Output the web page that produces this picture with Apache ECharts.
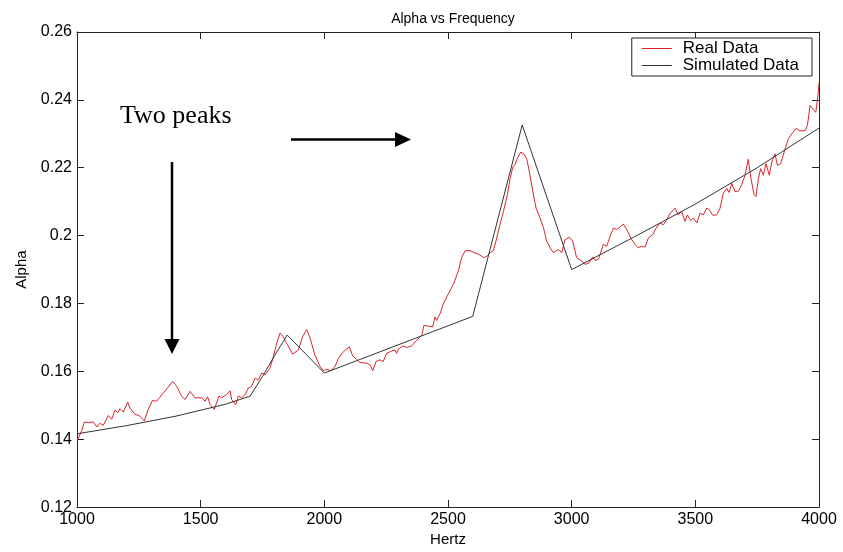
<!DOCTYPE html>
<html>
<head>
<meta charset="utf-8">
<script src="https://cdn.jsdelivr.net/npm/echarts@6/dist/echarts.min.js"></script>
<style>
  html, body { margin: 0; padding: 0; background: #fff; }
  #chart { width: 843px; height: 552px; }
</style>
</head>
<body>
<div id="chart"></div>
<script>
// Measured attenuation (Real Data): frequency in Hz and alpha
const realHz = [
  1000,1019,1030,1046,1066,1080,1093,1106,1127,1140,1154,1164,1174,1187,1205,1214,1235,1251,1272,1288,
  1305,1322,1349,1387,1403,1423,1437,1457,1477,1504,1518,1528,1538,1555,1574,1585,1605,1619,1625,1642,
  1652,1666,1673,1680,1693,1706,1720,1733,1747,1760,1780,1794,1807,1821,1834,1848,1872,1895,1912,1929,
  1945,1962,1983,1996,2010,2026,2043,2057,2077,2101,2115,2131,2144,2171,2185,2196,2209,2225,2238,2252,
  2272,2286,2292,2303,2319,2333,2353,2374,2394,2403,2420,2438,2447,2454,2468,2481,2501,2522,2542,2555,
  2569,2589,2605,2623,2636,2646,2659,2670,2683,2694,2710,2724,2740,2751,2762,2771,2780,2794,2807,2818,
  2829,2843,2856,2872,2886,2899,2913,2926,2946,2960,2973,2991,3004,3020,3041,3054,3071,3085,3094,3108,
  3128,3142,3155,3169,3182,3195,3209,3223,3239,3256,3269,3283,3297,3310,3328,3341,3357,3371,3384,3398,
  3418,3431,3445,3458,3468,3481,3492,3506,3519,3532,3546,3557,3570,3586,3600,3613,3627,3637,3647,3660,
  3674,3687,3701,3714,3725,3737,3745,3755,3764,3775,3786,3799,3809,3822,3832,3845,3859,3876,3894,3907,
  3923,3944,3953,3964,3977,3987,3997,4000
];
const realAlpha = [
  0.1395,0.1425,0.1451,0.1449,0.1451,0.1436,0.1447,0.1441,0.1470,0.1459,0.1486,0.1478,0.1490,0.1480,0.1509,0.1492,0.1473,0.1470,0.1454,0.1488,
  0.1514,0.1512,0.1536,0.1570,0.1556,0.1527,0.1517,0.1541,0.1522,0.1522,0.1512,0.1525,0.1502,0.1488,0.1527,0.1522,0.1532,0.1543,0.1517,0.1502,
  0.1527,0.1522,0.1517,0.1532,0.1551,0.1556,0.1580,0.1575,0.1595,0.1590,0.1609,0.1643,0.1682,0.1713,0.1702,0.1682,0.1651,0.1663,0.1702,0.1723,
  0.1692,0.1648,0.1614,0.1602,0.1606,0.1602,0.1614,0.1638,0.1658,0.1672,0.1645,0.1635,0.1626,0.1624,0.1619,0.1602,0.1629,0.1634,0.1629,0.1653,
  0.1660,0.1663,0.1653,0.1668,0.1675,0.1670,0.1675,0.1692,0.1707,0.1736,0.1733,0.1731,0.1760,0.1750,0.1770,0.1799,0.1828,0.1857,0.1896,0.1935,
  0.1955,0.1956,0.1950,0.1945,0.1940,0.1935,0.1940,0.1950,0.1955,0.1984,0.2032,0.2071,0.2120,0.2168,0.2202,0.2209,0.2227,0.2246,0.2241,0.2227,
  0.2188,0.2130,0.2081,0.2052,0.2023,0.1984,0.1964,0.1950,0.1959,0.1950,0.1988,0.1995,0.1984,0.1935,0.1925,0.1915,0.1920,0.1937,0.1927,0.1930,
  0.1974,0.1969,0.1998,0.2022,0.2018,0.2025,0.2034,0.2018,0.1993,0.1974,0.1964,0.1969,0.1966,0.1993,0.2003,0.2022,0.2037,0.2032,0.2047,0.2066,
  0.2081,0.2061,0.2071,0.2042,0.2061,0.2044,0.2052,0.2037,0.2066,0.2061,0.2081,0.2076,0.2060,0.2061,0.2081,0.2125,0.2139,0.2127,0.2154,0.2130,
  0.2131,0.2149,0.2178,0.2225,0.2168,0.2122,0.2115,0.2168,0.2197,0.2178,0.2212,0.2178,0.2217,0.2241,0.2207,0.2212,0.2246,0.2285,0.2304,0.2316,
  0.2309,0.2309,0.2324,0.2384,0.2372,0.2363,0.2421,0.2450
];

// Model output (Simulated Data)
const simHz    = [1000, 1200, 1400, 1600, 1700, 1750, 1800, 1850, 2000, 2600, 2800, 3000, 3250, 3500, 3750, 4000];
const simAlpha = [0.1416, 0.1440, 0.1468, 0.1503, 0.1527, 0.1585, 0.1648, 0.1707, 0.1595, 0.1762, 0.2326, 0.1900, 0.1995, 0.2093, 0.2200, 0.2317];

// Axis ticks
const xTicks = ['1000', '1500', '2000', '2500', '3000', '3500', '4000'];
const yTicks = ['0.12', '0.14', '0.16', '0.18', '0.2', '0.22', '0.24', '0.26'];

const seriesNames = ['Real Data', 'Simulated Data'];

const pairs = (xs, ys) => xs.map((x, i) => [x, ys[i]]);

const FONT = 'Liberation Sans, Arial, sans-serif';
const AXIS_COLOR = '#222';

const chart = echarts.init(document.getElementById('chart'), null, { renderer: 'canvas' });

const frameAxisX = (pos, showLabels) => ({
  type: 'value',
  position: pos,
  min: Number(xTicks[0]),
  max: Number(xTicks[xTicks.length - 1]),
  interval: 500,
  axisLine: { show: true, onZero: false, lineStyle: { color: AXIS_COLOR, width: 1 } },
  axisTick: { show: true, inside: true, length: 7, lineStyle: { color: AXIS_COLOR } },
  axisLabel: {
    show: showLabels, color: '#000', fontFamily: FONT, fontSize: 16, margin: 4,
    formatter: v => xTicks[Math.round((v - 1000) / 500)]
  },
  splitLine: { show: false }
});

const frameAxisY = (pos, showLabels) => ({
  type: 'value',
  position: pos,
  min: 0.12,
  max: 0.26,
  interval: 0.02,
  axisLine: { show: true, onZero: false, lineStyle: { color: AXIS_COLOR, width: 1 } },
  axisTick: { show: true, inside: true, length: 7, lineStyle: { color: AXIS_COLOR } },
  axisLabel: {
    show: showLabels, color: '#000', fontFamily: FONT, fontSize: 16, margin: 5,
    formatter: v => yTicks[Math.round((v - 0.12) / 0.02)]
  },
  splitLine: { show: false }
});

const xBottom = Object.assign(frameAxisX('bottom', true), {
  name: 'Hertz', nameLocation: 'middle', nameGap: 20,
  nameTextStyle: { color: '#000', fontFamily: FONT, fontSize: 15 }
});
const yLeft = Object.assign(frameAxisY('left', true), {
  name: 'Alpha', nameLocation: 'middle', nameGap: 48,
  nameTextStyle: { color: '#000', fontFamily: FONT, fontSize: 15 }
});

chart.setOption({
  animation: false,
  backgroundColor: '#fff',
  title: {
    text: 'Alpha vs Frequency',
    left: 448, top: 7, textAlign: 'center',
    textStyle: { color: '#000', fontFamily: FONT, fontSize: 14, fontWeight: 'normal' }
  },
  grid: { left: 77, right: 24, top: 32, bottom: 40, containLabel: false },
  legend: {
    data: seriesNames,
    orient: 'vertical',
    right: 31, top: 38,
    backgroundColor: '#fff',
    borderColor: '#222', borderWidth: 1,
    padding: [2, 13, 2, 10],
    itemGap: 0,
    itemWidth: 30, itemHeight: 1,
    icon: 'rect',
    textStyle: { color: '#000', fontFamily: FONT, fontSize: 17, lineHeight: 16, padding: [0, 0, 0, 6] }
  },
  xAxis: [xBottom, frameAxisX('top', false)],
  yAxis: [yLeft, frameAxisY('right', false)],
  series: [
    {
      name: seriesNames[0], type: 'line', xAxisIndex: 0, yAxisIndex: 0,
      data: pairs(realHz, realAlpha),
      showSymbol: false, symbol: 'none',
      lineStyle: { color: '#d8262c', width: 1 }, itemStyle: { color: '#d8262c' },
      z: 3
    },
    {
      name: seriesNames[1], type: 'line', xAxisIndex: 0, yAxisIndex: 0,
      data: pairs(simHz, simAlpha),
      showSymbol: false, symbol: 'none',
      lineStyle: { color: '#333', width: 1 }, itemStyle: { color: '#333' },
      z: 4
    }
  ],
  graphic: [
    {
      type: 'text', left: 120, top: 103, z: 10,
      style: { text: 'Two peaks', fill: '#000', font: '26px "Liberation Serif", "Times New Roman", serif' }
    },
    // downward arrow
    { type: 'line', z: 10, shape: { x1: 172, y1: 162, x2: 172, y2: 341 }, style: { stroke: '#000', lineWidth: 2.5 } },
    { type: 'polygon', z: 10, shape: { points: [[164.5, 339], [179.5, 339], [172, 354]] }, style: { fill: '#000' } },
    // rightward arrow
    { type: 'line', z: 10, shape: { x1: 291, y1: 139.5, x2: 397, y2: 139.5 }, style: { stroke: '#000', lineWidth: 2.5 } },
    { type: 'polygon', z: 10, shape: { points: [[395, 132], [395, 147], [411, 139.5]] }, style: { fill: '#000' } }
  ]
});
</script>
</body>
</html>
